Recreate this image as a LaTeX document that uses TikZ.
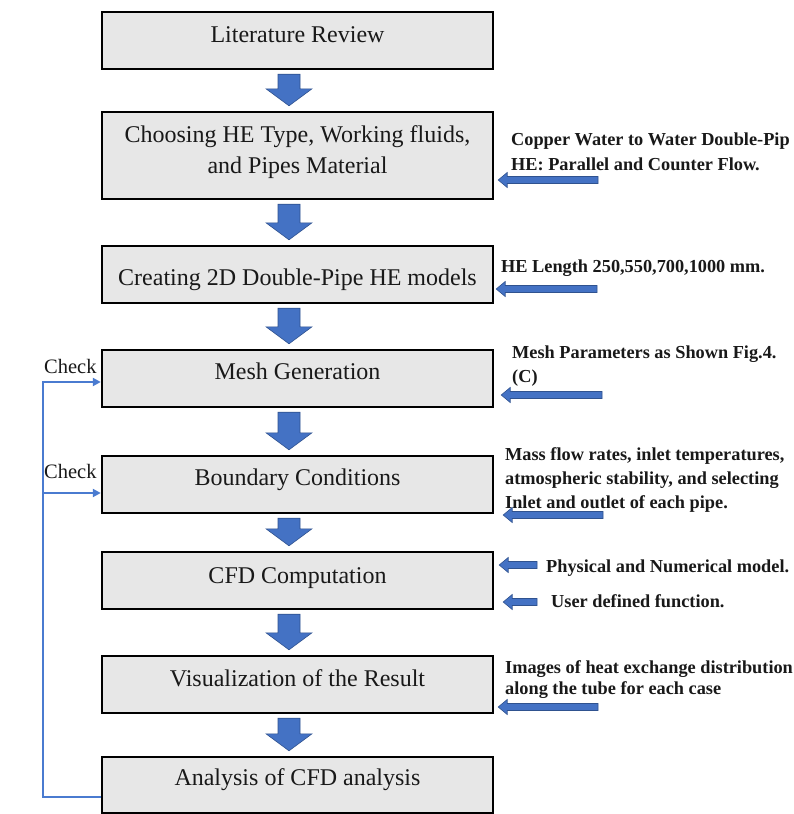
\documentclass[tikz,border=0pt]{standalone}
\usepackage{fontspec}
\setmainfont{Liberation Serif}
\usetikzlibrary{arrows.meta,calc}
\definecolor{boxgray}{HTML}{E7E7E7}
\definecolor{arrowblue}{HTML}{4472C4}
\definecolor{arrowedge}{HTML}{2F528F}
\definecolor{checkblue}{HTML}{4A7BD0}

\newcommand\blockdown[2]{%
  \path[blockarrow] let \p1=(#1.south), \p2=(#2.north) in
    (\x1-19.5pt,\y1-4pt) -- (\x1+2.5pt,\y1-4pt) -- (\x1+2.5pt,\y2+22pt) --
    (\x1+14.5pt,\y2+22pt) -- (\x1-8.5pt,\y2+5pt) -- (\x1-31.5pt,\y2+22pt) --
    (\x1-19.5pt,\y2+22pt) -- cycle;}
\newcommand\sidearrow[2]{%
  \path[blockarrow] let \p1=(#1), \p2=(#2) in
    (\x2,\y1) -- (\x2+9pt,\y1+7.5pt) -- (\x2+9pt,\y1+3.5pt) -- (\x1,\y1+3.5pt) --
    (\x1,\y1-3.5pt) -- (\x2+9pt,\y1-3.5pt) -- (\x2+9pt,\y1-7.5pt) -- cycle;}

\begin{document}
\begin{tikzpicture}[x=1pt,y=-1pt,
  box/.style={draw=black, line width=2.4pt, fill=boxgray, minimum width=391pt, inner sep=0pt},
  boxtext/.style={font=\fontsize{24}{31}\selectfont, text=black!90, align=center, inner sep=0pt},
  note/.style={font=\fontsize{18.3}{24.5}\selectfont\bfseries, anchor=base west, align=left, inner sep=0pt, text=black!90},
  blockarrow/.style={fill=arrowblue, draw=arrowedge, line width=0.6pt, line join=miter},
  checkline/.style={draw=checkblue, line width=2.2pt, -{Triangle[length=8pt,width=8pt]}},
  checklabel/.style={font=\fontsize{20.5}{24}\selectfont, anchor=base west, inner sep=0pt, text=black!90}]

\useasboundingbox (0,0) rectangle (794,814);
\clip (0,0) rectangle (794,814);
\fill[white] (0,0) rectangle (794,814);

% boxes
\node[box, minimum height=57pt] (b1) at (297.5,40.5) {};
\node[box, minimum height=87pt] (b2) at (297.5,155.5) {};
\node[box, minimum height=57pt] (b3) at (297.5,274.5) {};
\node[box, minimum height=57pt] (b4) at (297.5,378.5) {};
\node[box, minimum height=57pt] (b5) at (297.5,484.5) {};
\node[box, minimum height=57pt] (b6) at (297.5,580.5) {};
\node[box, minimum height=57pt] (b7) at (297.5,684.5) {};
\node[box, minimum height=56pt] (b8) at (297.5,785) {};

% box texts
\node[boxtext, anchor=base] (t1) at ([yshift=-2.2pt]b1.center) {Literature Review};
\node[boxtext] (t2) at ([yshift=3.6pt]b2.center) {Choosing HE Type, Working fluids,\\and Pipes Material};
\node[boxtext, anchor=base] (t3) at ([yshift=-10.5pt]b3.center) {Creating 2D Double-Pipe HE models};
\node[boxtext, anchor=base] (t4) at ([yshift=-0.8pt]b4.center) {Mesh Generation};
\node[boxtext, anchor=base] (t5) at ([yshift=-0.5pt]b5.center) {Boundary Conditions};
\node[boxtext, anchor=base] (t6) at ([yshift=-2.5pt]b6.center) {CFD Computation};
\node[boxtext, anchor=base] (t7) at ([yshift=-2pt]b7.center) {Visualization of the Result};
\node[boxtext, anchor=base] (t8) at ([yshift=-0.7pt]b8.center) {Analysis of CFD analysis};

% block arrows between boxes
\blockdown{b1}{b2}
\blockdown{b2}{b3}
\blockdown{b3}{b4}
\blockdown{b4}{b5}
\blockdown{b5}{b6}
\blockdown{b6}{b7}
\blockdown{b7}{b8}

% notes on the right (base = baseline of the last line)
\node[note, font=\fontsize{18.3}{25}\selectfont\bfseries] (n2) at (511,170) {Copper Water to Water Double-Pip\\HE: Parallel and Counter Flow.};
\node[note] (n3) at (501,272) {HE Length 250,550,700,1000 mm.};
\node[note, font=\fontsize{18.3}{24}\selectfont\bfseries] (n4) at (512,382) {Mesh Parameters as Shown Fig.4.\\(C)};
\node[note, font=\fontsize{18.3}{24}\selectfont\bfseries] (n5) at (505,508) {Mass flow rates, inlet temperatures,\\atmospheric stability, and selecting\\Inlet and outlet of each pipe.};
\node[note] (n6a) at (546,572) {Physical and Numerical model.};
\node[note] (n6b) at (551,607) {User defined function.};
\node[note, font=\fontsize{18.3}{21}\selectfont\bfseries] (n7) at (505,694) {Images of heat exchange distribution\\along the tube for each case};

% side arrows
\coordinate (s2) at (598,180);
\coordinate (s3) at (597,289);
\coordinate (s4) at (602,395);
\coordinate (s5) at (603,515);
\coordinate (s6a) at (537,565);
\coordinate (s6b) at (537,602);
\coordinate (s7) at (598,707);
\sidearrow{s2}{[xshift=4pt]b2.east}
\sidearrow{s3}{[xshift=2pt]b3.east}
\sidearrow{s4}{[xshift=7pt]b4.east}
\sidearrow{s5}{[xshift=9pt]b5.east}
\sidearrow{s6a}{[xshift=5pt]b6.east}
\sidearrow{s6b}{[xshift=9pt]b6.east}
\sidearrow{s7}{[xshift=4pt]b7.east}

% check loop
\coordinate (rail) at (43,0);
\coordinate (k4) at ([yshift=-3.5pt]b4.west);
\coordinate (k5) at ([yshift=-8.5pt]b5.west);
\coordinate (k8) at ([yshift=-12pt]b8.west);
\draw[checkline] (k8) -| (k4 -| rail) -- (k4);
\draw[checkline] (k5 -| rail) -- (k5);
\node[checklabel] (c4) at (44,373) {Check};
\node[checklabel] (c5) at (44,478) {Check};
\end{tikzpicture}
\end{document}
